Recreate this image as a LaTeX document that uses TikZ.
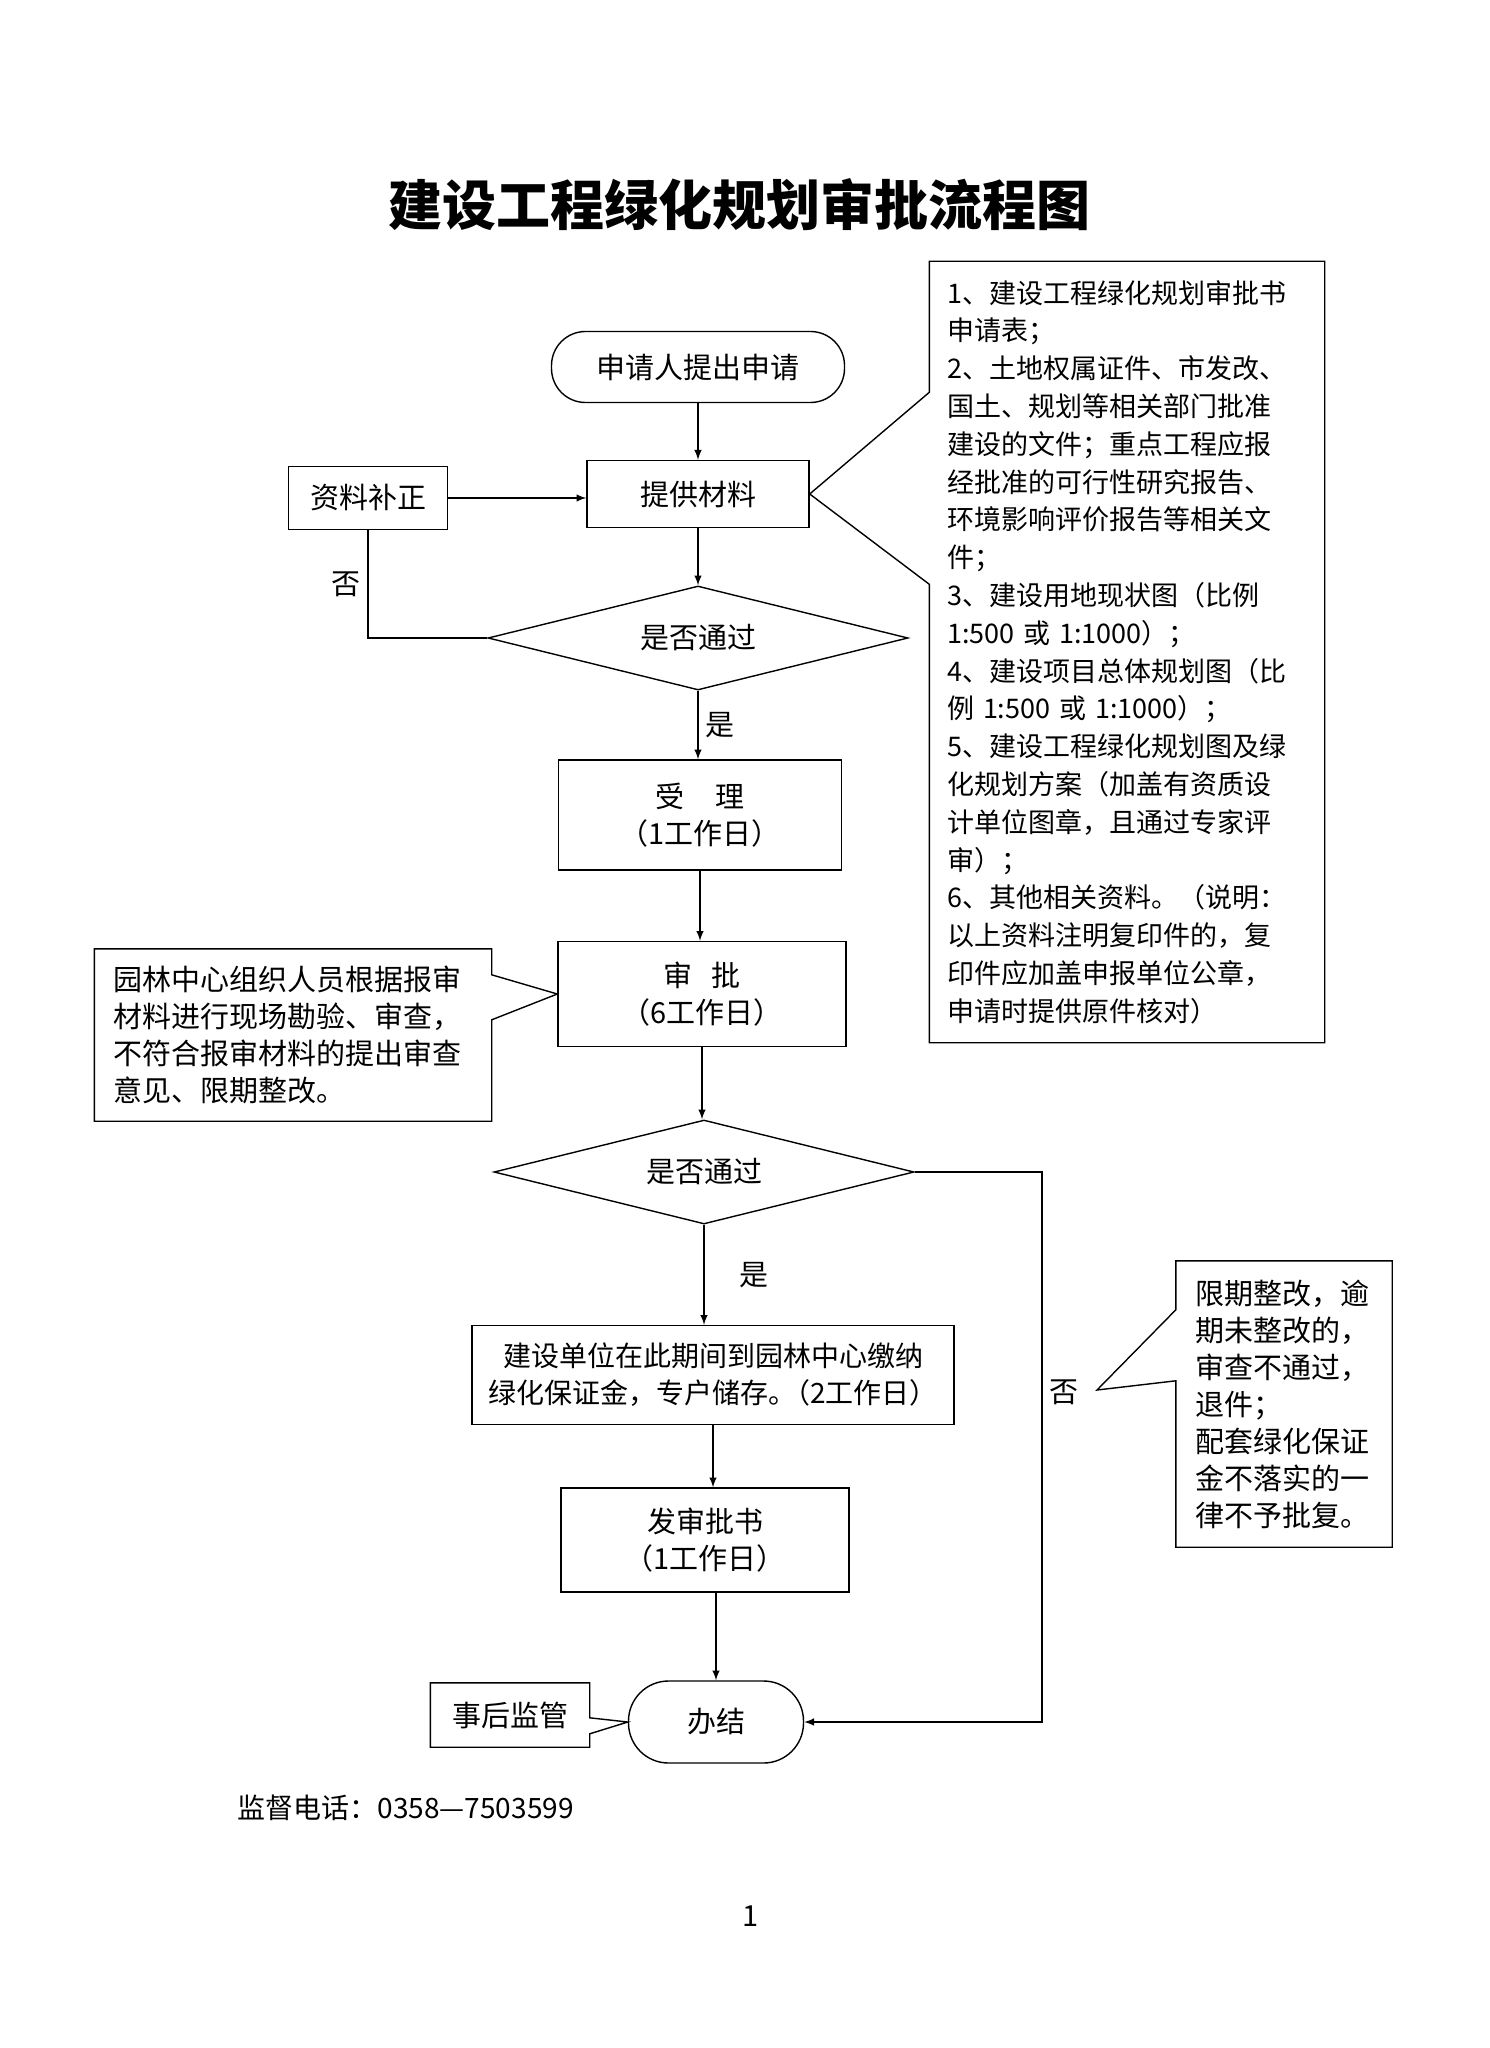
\documentclass[tikz,border=0pt]{standalone}
\usepackage{fontspec}
\setmainfont{Noto Sans CJK SC}
\usetikzlibrary{shapes.geometric,calc}

\begin{document}
\begin{tikzpicture}[x=0.5pt,y=-0.5pt,line width=0.7pt,
  box/.style={draw,rectangle,align=center,inner sep=0pt,font=\fontsize{14.5}{18.5}\selectfont},
  term/.style={box,rounded corners=17pt},
  panduan/.style={draw,diamond,aspect=4,inner sep=0pt,minimum width=210pt,minimum height=52pt,font=\fontsize{14.5}{18.5}\selectfont},
  shuoming/.style={rectangle,align=left,inner sep=0pt,font=\fontsize{14.5}{18.5}\selectfont}]
\useasboundingbox (0,0) rectangle (1489,2048);
\fill[white] (0,0) rectangle (1489,2048);
\node[font=\fontsize{27}{30}\selectfont\bfseries] (biaoti) at (739,205) {建设工程绿化规划审批流程图};
\node[term,minimum width=146.5pt,minimum height=35.5pt] (shenqing) at (698,367) {申请人提出申请};
\node[box,minimum width=111pt,minimum height=33.5pt] (tigong) at (698,494) {提供材料};
\node[box,minimum width=79.5pt,minimum height=31.5pt] (buzheng) at (368,498) {资料补正};
\node[panduan] (pd1) at (698,638) {是否通过};
\node[box,minimum width=141.5pt,minimum height=55pt] (shouli) at (700,815) {受\hspace{16pt}理\\（1工作日）};
\node[box,minimum width=144pt,minimum height=52.5pt] (shenpi) at (702,994) {审\hspace{10pt}批\\（6工作日）};
\node[panduan] (pd2) at (704,1172) {是否通过};
\node[box,font=\fontsize{14}{18.5}\selectfont,minimum width=241pt,minimum height=49.5pt] (jiaona) at (713,1375) {建设单位在此期间到园林中心缴纳\\绿化保证金，专户储存。\kern-7pt（2工作日）};
\node[box,minimum width=144pt,minimum height=52pt] (fashu) at (705,1540) {发审批书\\（1工作日）};
\node[term,rounded corners=20pt,minimum width=87.5pt,minimum height=41pt] (banjie) at (716,1722) {办结};
\node[box,draw=none,minimum width=79pt,minimum height=31.5pt] (houjian) at (510,1715) {事后监管};
\node[shuoming,font=\fontsize{13.5}{18.9}\selectfont,minimum width=197pt,minimum height=390pt,text width=180pt] (cailiao) at (1127,652) {1、建设工程绿化规划审批书\\申请表；\\2、土地权属证件、市发改、\\国土、规划等相关部门批准\\建设的文件；重点工程应报\\经批准的可行性研究报告、\\环境影响评价报告等相关文\\件；\\3、建设用地现状图（比例\\1:500 或 1:1000）；\\4、建设项目总体规划图（比\\例 1:500 或 1:1000）；\\5、建设工程绿化规划图及绿\\化规划方案（加盖有资质设\\计单位图章，且通过专家评\\审）；\\6、其他相关资料。（说明：\\以上资料注明复印件的，复\\印件应加盖申报单位公章，\\申请时提供原件核对）};
\node[shuoming,minimum width=198pt,minimum height=85.5pt,text width=180pt] (yuanlin) at (293,1035) {园林中心组织人员根据报审\\材料进行现场勘验、审查，\\不符合报审材料的提出审查\\意见、限期整改。};
\node[shuoming,minimum width=107.5pt,minimum height=142.5pt,text width=89pt] (xianqi) at (1284,1404) {限期整改，逾\\期未整改的，\\审查不通过，\\退件；\\配套绿化保证\\金不落实的一\\律不予批复。};
\coordinate (fou2) at (1097,1390);
\coordinate (guai) at (1042,1722);
\draw (cailiao.north west) -- (cailiao.north east) -- (cailiao.south east) -- (cailiao.south west) -- ([yshift=-161.5pt]cailiao.north west) -- (tigong.east) -- ([yshift=-65.5pt]cailiao.north west) -- cycle;
\draw (yuanlin.north west) -- (yuanlin.north east) -- ([yshift=-13pt]yuanlin.north east) -- (shenpi.west) -- ([yshift=-35.5pt]yuanlin.north east) -- (yuanlin.south east) -- (yuanlin.south west) -- cycle;
\draw (xianqi.north west) -- (xianqi.north east) -- (xianqi.south east) -- (xianqi.south west) -- ([yshift=-60pt]xianqi.north west) -- (fou2) -- ([yshift=-24.5pt]xianqi.north west) -- cycle;
\draw (houjian.north west) -- (houjian.north east) -- ([yshift=-17.5pt]houjian.north east) -- (banjie.west) -- ([yshift=-25.5pt]houjian.north east) -- (houjian.south east) -- (houjian.south west) -- cycle;
\draw[-latex] (shenqing.south) -- (shenqing.south |- tigong.north);
\draw[-latex] (buzheng.east) -- (buzheng.east -| tigong.west);
\draw[-latex] (tigong.south) -- (tigong.south |- pd1.north);
\draw (pd1.west) -| node[pos=0.75,left,font=\fontsize{14.5}{18.5}\selectfont] {否} (buzheng.south);
\draw[-latex] (pd1.south) -- node[right,font=\fontsize{14.5}{18.5}\selectfont] {是} (pd1.south |- shouli.north);
\draw[-latex] (shouli.south) -- (shouli.south |- shenpi.north);
\draw[-latex] (shenpi.south) -- (shenpi.south |- pd2.north);
\draw[-latex] (pd2.south) -- node[right=14pt,font=\fontsize{14.5}{18.5}\selectfont] {是} (pd2.south |- jiaona.north);
\draw[-latex] (jiaona.south) -- (jiaona.south |- fashu.north);
\draw[-latex] (banjie.north |- fashu.south) -- (banjie.north);
\draw[-latex] (pd2.east) -| node[pos=0.7,right,font=\fontsize{14.5}{18.5}\selectfont] {否} (guai) -- (banjie.east);
\node[anchor=west,inner sep=0pt,font=\fontsize{14}{18.5}\selectfont] (dianhua) at (237,1808) {监督电话：0358—7503599};
\node[font=\fontsize{14.5}{18.5}\selectfont] (yema) at (751,1916) {1};
\end{tikzpicture}
\end{document}
